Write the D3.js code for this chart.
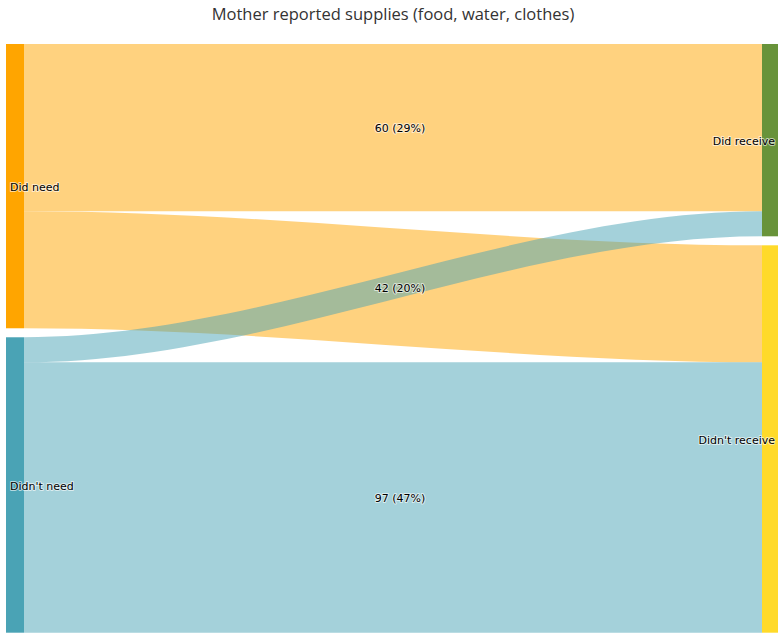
<!DOCTYPE html>
<html>
<head>
<meta charset="utf-8">
<script src="https://cdn.jsdelivr.net/npm/d3@7"></script>
<style>
  html, body { margin: 0; padding: 0; background: #fff; }
  svg { display: block; }
</style>
</head>
<body>
<svg id="chart" width="778" height="634"></svg>
<script>
// Sankey of needed vs. received supplies
const titleText = "Mother reported supplies (food, water, clothes)";
const sourceNodes = ["Did need", "Didn't need"];
const targetNodes = ["Did receive", "Didn't receive"];
const sourceColors = ["#ffa500", "#4aa3b5"];
const targetColors = ["#68933a", "#ffda2a"];
const linkFrom = ["Did need", "Did need", "Didn't need", "Didn't need"];
const linkTo = ["Did receive", "Didn't receive", "Did receive", "Didn't receive"];
const linkValues = [60, 42, 9, 97];

const W = 778, H = 634;
const plotTop = 44, plotBottom = 632.7;
const nodeWidth = 18, nodePadding = 9;
const leftX = 6, rightX = 762;
const curveFactor = 0.33;

const svg = d3.select("#chart");

svg.append("text")
  .attr("x", 393).attr("y", 20)
  .attr("text-anchor", "middle")
  .attr("font-family", "'Open Sans', 'DejaVu Sans', sans-serif")
  .attr("font-size", 16.5)
  .attr("fill", "#333")
  .text(titleText);

const total = d3.sum(linkValues);
// Each column holds the total plus one gap
const y = d3.scaleLinear()
  .domain([0, total])
  .range([0, (plotBottom - plotTop) - nodePadding]);

function buildColumn(names, colors, x, key) {
  let cursor = plotTop;
  return names.map((name, i) => {
    const value = d3.sum(linkValues.filter((v, j) => (key === "from" ? linkFrom[j] : linkTo[j]) === name));
    const node = { name, color: colors[i], x, y0: cursor, y1: cursor + y(value), value };
    cursor = node.y1 + nodePadding;
    return node;
  });
}

const leftCol = buildColumn(sourceNodes, sourceColors, leftX, "from");
const rightCol = buildColumn(targetNodes, targetColors, rightX, "to");
const byName = new Map([...leftCol, ...rightCol].map(n => [n.name, n]));

// Stack links inside nodes, ordered by the opposite node
const links = linkValues.map((v, i) => ({
  value: v, source: byName.get(linkFrom[i]), target: byName.get(linkTo[i]), index: i
}));
const outCursor = new Map(leftCol.map(n => [n.name, n.y0]));
const inCursor = new Map(rightCol.map(n => [n.name, n.y0]));
leftCol.forEach(src => {
  links.filter(l => l.source === src)
    .sort((a, b) => a.target.y0 - b.target.y0)
    .forEach(l => { l.sy = outCursor.get(src.name); outCursor.set(src.name, l.sy + y(l.value)); });
});
rightCol.forEach(tgt => {
  links.filter(l => l.target === tgt)
    .sort((a, b) => a.source.y0 - b.source.y0)
    .forEach(l => { l.ty = inCursor.get(tgt.name); inCursor.set(tgt.name, l.ty + y(l.value)); });
});

function linkPath(l) {
  const x0 = leftX + nodeWidth, x1 = rightX;
  const c = (x1 - x0) * curveFactor;
  const h = y(l.value);
  const p = d3.path();
  p.moveTo(x0, l.sy);
  p.bezierCurveTo(x0 + c, l.sy, x1 - c, l.ty, x1, l.ty);
  p.lineTo(x1, l.ty + h);
  p.bezierCurveTo(x1 - c, l.ty + h, x0 + c, l.sy + h, x0, l.sy + h);
  p.closePath();
  return p.toString();
}

svg.append("g").selectAll("path")
  .data(links)
  .join("path")
  .attr("d", linkPath)
  .attr("fill", d => d.source.color)
  .attr("fill-opacity", 0.5);

svg.append("g").selectAll("rect")
  .data([...leftCol, ...rightCol])
  .join("rect")
  .attr("x", d => d.x)
  .attr("y", d => d.y0)
  .attr("width", nodeWidth)
  .attr("height", d => d.y1 - d.y0)
  .attr("fill", d => d.color);

const labelFont = "'DejaVu Sans', Verdana, sans-serif";
function haloText(g, x, yy, anchor, txt) {
  return g.append("text")
    .attr("x", x).attr("y", yy)
    .attr("dy", "0.35em")
    .attr("text-anchor", anchor)
    .attr("font-family", labelFont)
    .attr("font-size", 11)
    .attr("fill", "#000")
    .attr("stroke", "#fff")
    .attr("stroke-width", 2)
    .attr("stroke-opacity", 0.6)
    .attr("stroke-linejoin", "round")
    .attr("paint-order", "stroke")
    .text(txt);
}

// Link labels at the midpoint of each band; overlapping ones are dropped
const labelG = svg.append("g");
const placed = [];
links.forEach(l => {
  const h = y(l.value);
  const cy = ((l.sy + h / 2) + (l.ty + h / 2)) / 2 + 1;
  const cx = (leftX + nodeWidth + rightX) / 2 + 7;
  const txt = `${l.value} (${Math.round(l.value / total * 100)}%)`;
  const t = haloText(labelG, cx, cy, "middle", txt);
  const b = t.node().getBBox();
  if (placed.some(p => !(b.x + b.width < p.x || p.x + p.width < b.x || b.y + b.height < p.y || p.y + p.height < b.y))) {
    t.remove();
  } else {
    placed.push(b);
  }
});

const nodeLabelG = svg.append("g");
leftCol.forEach(n => haloText(nodeLabelG, n.x + 4, (n.y0 + n.y1) / 2 + 1, "start", n.name));
rightCol.forEach(n => haloText(nodeLabelG, W - 3, (n.y0 + n.y1) / 2 + 1, "end", n.name));
</script>
</body>
</html>
